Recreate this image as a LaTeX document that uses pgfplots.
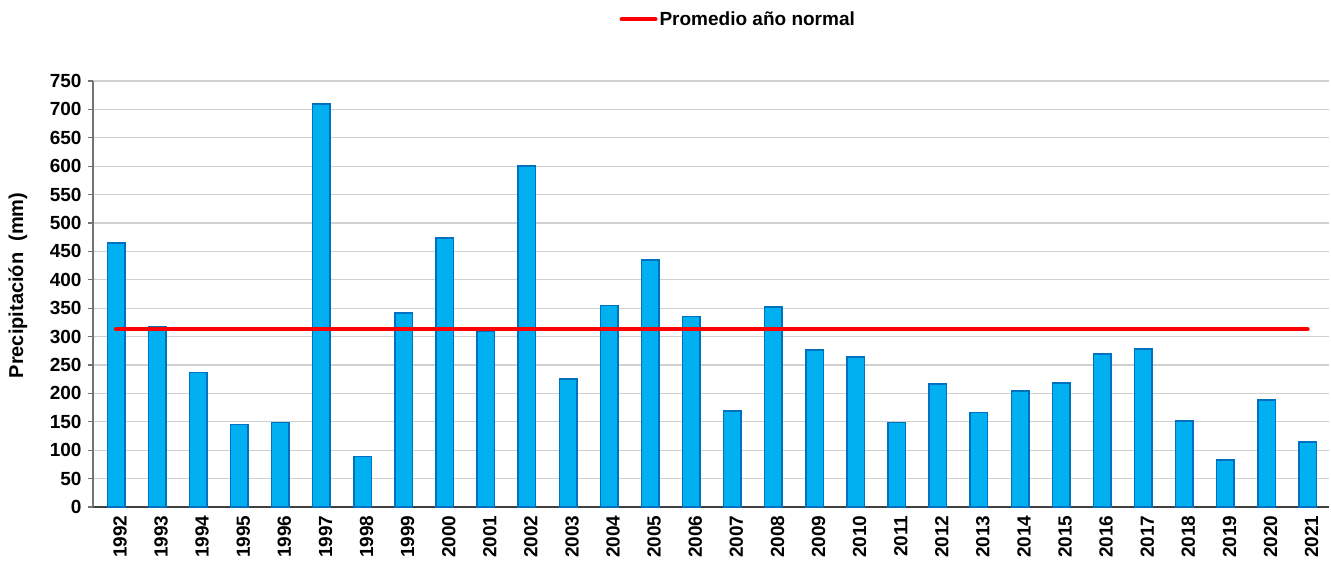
\documentclass[border=0pt]{standalone}
\usepackage{fontspec}
\setmainfont{Liberation Sans}
\usepackage{pgfplots}
\pgfplotsset{compat=1.18}
\definecolor{barfill}{HTML}{00B0F0}
\definecolor{barline}{HTML}{0070C0}
\definecolor{gridc}{HTML}{D0D0D0}
\begin{document}
\begin{tikzpicture}
\useasboundingbox (0,0) rectangle (1331pt,568pt);
\begin{axis}[
  at={(93pt,61pt)}, anchor=south west,
  scale only axis, width=1236pt, height=426pt,
  xmin=-0.56, xmax=29.52, ymin=0, ymax=750,
  ytick={0,50,...,750},
  xtick={0,...,29},
  xticklabels={1992,1993,1994,1995,1996,1997,1998,1999,2000,2001,2002,2003,2004,2005,2006,2007,2008,2009,2010,2011,2012,2013,2014,2015,2016,2017,2018,2019,2020,2021},
  axis x line*=bottom, axis y line*=left,
  x axis line style={draw=black!75, line width=1.2pt, -},
  y axis line style={draw=black!55, line width=1.2pt, -},
  ymajorgrids, grid style={gridc, line width=1.3pt},
  xtick style={draw=none},
  ytick style={draw=black!55, line width=1.2pt},
  tick align=outside, major tick length=5pt,
  /pgf/number format/assume math mode=true,
  tick label style={font=\fontsize{19}{21}\selectfont\bfseries},
  xticklabel style={rotate=90, anchor=east, yshift=-4pt},
  yticklabel style={xshift=-3pt},
  ylabel={Precipitación\ \ (mm)},
  ylabel style={font=\fontsize{20}{22}\selectfont\bfseries, at={(axis description cs:-0.0607,0.52)}, anchor=center, rotate=0},
  legend style={at={(axis description cs:0.522,1.145)}, anchor=center, draw=none, fill=none,
    font=\fontsize{19}{21}\selectfont\bfseries, inner sep=0pt},
  legend cell align=left,
]
\addplot[ybar, bar width=17.5pt, fill=barfill, draw=barline, line width=1.5pt, forget plot] coordinates {
(0,465) (1,317) (2,236.5) (3,145) (4,148.5) (5,709.5) (6,89) (7,341.5) (8,474) (9,310)
(10,600) (11,225) (12,355) (13,435) (14,335.7) (15,169) (16,352) (17,276.4) (18,264) (19,148.5)
(20,216.5) (21,166) (22,204) (23,218) (24,269) (25,278) (26,151) (27,83) (28,188) (29,114.5)
};
\addplot[red, line width=4pt, line cap=round,
  legend image code/.code={\draw[red, line width=4pt, line cap=round] (0pt,0pt) -- (34pt,0pt);}]
  coordinates {(0,313) (29,313)};
\addlegendentry{Promedio año normal}
\end{axis}
\end{tikzpicture}
\end{document}
